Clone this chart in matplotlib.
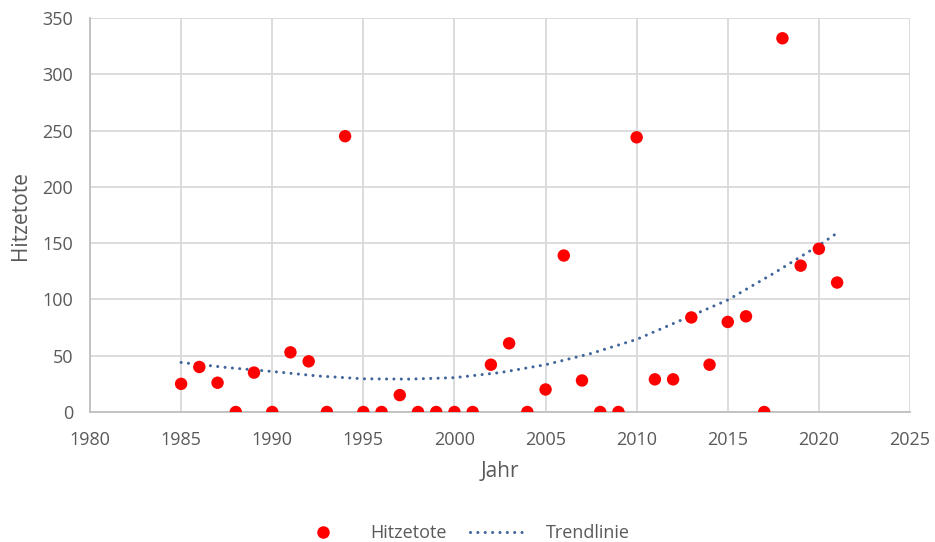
import numpy as np
import matplotlib
matplotlib.use("Agg")
import matplotlib.pyplot as plt
from matplotlib.lines import Line2D

years = [1985, 1986, 1987, 1988, 1989, 1990, 1991, 1992, 1993, 1994,
         1995, 1996, 1997, 1998, 1999, 2000, 2001, 2002, 2003, 2004,
         2005, 2006, 2007, 2008, 2009, 2010, 2011, 2012, 2013, 2014,
         2015, 2016, 2017, 2018, 2019, 2020, 2021]
hitzetote = [25, 40, 26, 0, 35, 0, 53, 45, 0, 245,
             0, 0, 15, 0, 0, 0, 0, 42, 61, 0,
             20, 139, 28, 0, 0, 244, 29, 29, 84, 42,
             80, 85, 0, 332, 130, 145, 115]
# trendline values
trend_years = [1985, 1987.5, 1990, 1992.5, 1995, 1997.5, 2000, 2002.5,
               2005, 2007.5, 2010, 2012.5, 2015, 2017.5, 2020, 2021]
trend_values = [44, 39.5, 36, 32, 29.5, 29.2, 30.5, 35,
                42, 52, 64.5, 82, 99.5, 123, 148, 159]
x_ticks = [1980, 1985, 1990, 1995, 2000, 2005, 2010, 2015, 2020, 2025]
y_ticks = [0, 50, 100, 150, 200, 250, 300, 350]

plt.rcParams['font.family'] = ['Open Sans', 'DejaVu Sans']
txt = '#595959'
grid = '#d9d9d9'
tcol = '#3f659a'
dots = (0, (0.01, 2.4))

fig = plt.figure(figsize=(9.35, 5.42), dpi=100)
ax = fig.add_axes([90/935, 1-412/542, 820/935, 394/542])

ax.plot(trend_years, trend_values, color=tcol, lw=2.2, linestyle=dots,
        dash_capstyle='round', solid_joinstyle='round', zorder=3)
ax.scatter(years, hitzetote, s=80, color='#ff0000', edgecolors='none', zorder=4)

ax.set_xlim(1980, 2025)
ax.set_ylim(0, 350)
ax.set_xticks(x_ticks)
ax.set_yticks(y_ticks)
ax.grid(True, color=grid, lw=1.3)
ax.set_axisbelow(True)
for s in ['top', 'right']:
    ax.spines[s].set_visible(False)
for s in ['left', 'bottom']:
    ax.spines[s].set_color('#bfbfbf')
    ax.spines[s].set_linewidth(1.3)
ax.tick_params(length=0, labelsize=13, colors=txt)
ax.tick_params(axis='x', pad=14)
ax.tick_params(axis='y', pad=12)
ax.set_xlabel('Jahr', fontsize=15, color=txt, labelpad=8)
ax.set_ylabel('Hitzetote', fontsize=15, color=txt, labelpad=8)

handles = [Line2D([], [], marker='o', color='none', markerfacecolor='#ff0000',
                  markeredgecolor='none', markersize=9, label='Hitzetote'),
           Line2D([], [], color=tcol, lw=2.2, linestyle=dots,
                  dash_capstyle='round', label='Trendlinie')]
fig.legend(handles=handles, loc='center', bbox_to_anchor=(462/935, 1-533/542),
           ncol=2, frameon=False, fontsize=13, labelcolor=txt,
           handlelength=3.2, columnspacing=1.3, handletextpad=1.0)

fig.savefig('out.png', dpi=100)
